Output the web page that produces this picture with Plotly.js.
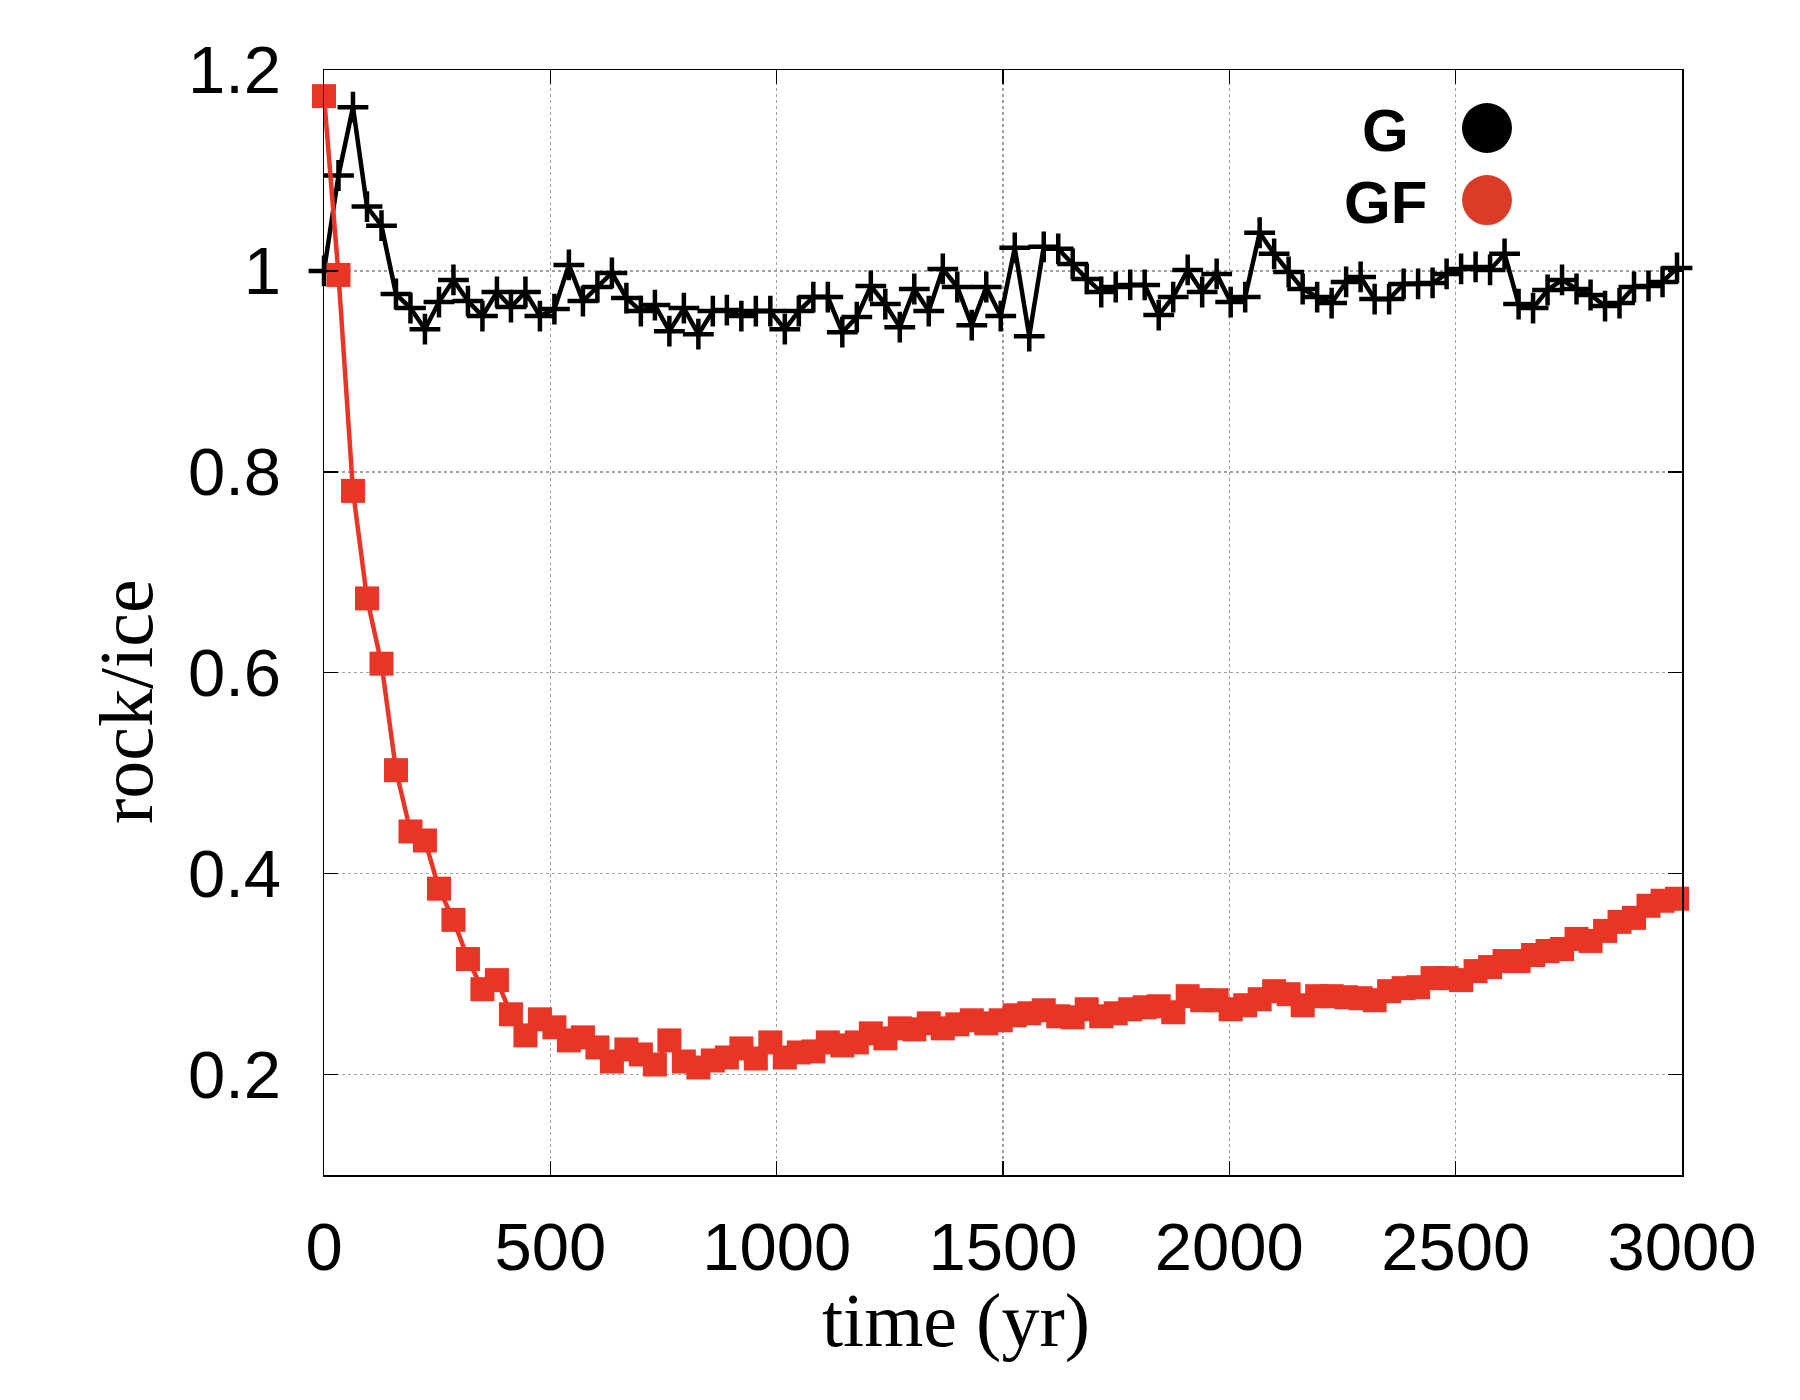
<!DOCTYPE html>
<html>
<head>
<meta charset="utf-8">
<script src="https://cdn.plot.ly/plotly-3.0.1.min.js"></script>
<style>
  html, body { margin: 0; padding: 0; background: #ffffff; }
  #chart { width: 1800px; height: 1400px; }
</style>
</head>
<body>
<div id="chart"></div>
<script>
// tiempo de salida (yr)
const timeYr = [
    0, 32, 64, 95, 127, 159, 191, 223, 254, 286,
    318, 350, 382, 413, 445, 477, 509, 541, 572, 604,
    636, 668, 700, 731, 763, 795, 827, 859, 890, 922,
    954, 986, 1018, 1049, 1081, 1113, 1145, 1177, 1208, 1240,
    1272, 1304, 1336, 1367, 1399, 1431, 1463, 1495, 1526, 1558,
    1590, 1622, 1654, 1685, 1717, 1749, 1781, 1813, 1844, 1876,
    1908, 1940, 1972, 2003, 2035, 2067, 2099, 2131, 2162, 2194,
    2226, 2258, 2290, 2321, 2353, 2385, 2417, 2449, 2480, 2512,
    2544, 2576, 2608, 2639, 2671, 2703, 2735, 2767, 2798, 2830,
    2862, 2894, 2926, 2957, 2989
];

// rock/ice - serie G
const rockIceG = [
    1.000, 1.095, 1.163, 1.064, 1.045, 0.977, 0.963, 0.942, 0.969, 0.991,
    0.970, 0.955, 0.979, 0.964, 0.979, 0.955, 0.962, 1.006, 0.970, 0.984,
    0.998, 0.973, 0.960, 0.966, 0.940, 0.963, 0.937, 0.960, 0.961, 0.955,
    0.960, 0.960, 0.942, 0.960, 0.974, 0.974, 0.939, 0.954, 0.985, 0.967,
    0.944, 0.982, 0.960, 1.002, 0.984, 0.946, 0.984, 0.955, 1.023, 0.935,
    1.024, 1.022, 1.007, 0.992, 0.979, 0.984, 0.986, 0.986, 0.956, 0.974,
    1.001, 0.979, 0.997, 0.969, 0.974, 1.038, 1.017, 0.999, 0.982, 0.974,
    0.968, 0.989, 0.994, 0.972, 0.972, 0.987, 0.987, 0.988, 0.997, 1.002,
    1.004, 1.001, 1.017, 0.967, 0.963, 0.981, 0.991, 0.982, 0.976, 0.965,
    0.968, 0.984, 0.985, 0.989, 1.003
];

// rock/ice - serie GF
const rockIceGF = [
    1.174, 0.996, 0.781, 0.674, 0.609, 0.503, 0.442, 0.433, 0.385, 0.354,
    0.315, 0.285, 0.294, 0.260, 0.239, 0.255, 0.247, 0.234, 0.237, 0.227,
    0.213, 0.225, 0.220, 0.210, 0.234, 0.213, 0.207, 0.214, 0.217, 0.226,
    0.216, 0.232, 0.217, 0.222, 0.223, 0.232, 0.229, 0.232, 0.241, 0.236,
    0.246, 0.245, 0.251, 0.246, 0.250, 0.254, 0.251, 0.254, 0.259, 0.261,
    0.264, 0.258, 0.257, 0.265, 0.258, 0.261, 0.265, 0.267, 0.268, 0.262,
    0.278, 0.274, 0.274, 0.265, 0.269, 0.275, 0.283, 0.280, 0.269, 0.278,
    0.278, 0.277, 0.276, 0.274, 0.283, 0.286, 0.287, 0.296, 0.296, 0.294,
    0.303, 0.307, 0.313, 0.313, 0.319, 0.323, 0.325, 0.335, 0.333, 0.343,
    0.352, 0.356, 0.368, 0.373, 0.375
];

const seriesNames = ['G', 'GF'];
const yTickVals = [0.2, 0.4, 0.6, 0.8, 1.0, 1.2];
const yTickText = ['0.2', '0.4', '0.6', '0.8', '1', '1.2'];
const xTickVals = [0, 500, 1000, 1500, 2000, 2500, 3000];

document.addEventListener('DOMContentLoaded', function() {
    initChart();
});

function initChart() {
    const traceG = {
        type: 'scatter',
        mode: 'lines+markers',
        name: seriesNames[0],
        x: timeYr,
        y: rockIceG,
        cliponaxis: false,
        line: { color: '#000000', width: 4.5 },
        marker: {
            symbol: 'cross-thin',
            size: 22,
            color: '#000000',
            line: { color: '#000000', width: 4.5 }
        }
    };

    const traceGF = {
        type: 'scatter',
        mode: 'lines+markers',
        name: seriesNames[1],
        x: timeYr,
        y: rockIceGF,
        cliponaxis: false,
        line: { color: '#e93526', width: 4.5 },
        marker: { symbol: 'square', size: 24, color: '#e93526' }
    };

    const tickFont = { family: 'Liberation Sans, Arial, sans-serif', size: 67, color: '#000000' };
    const titleFont = { family: 'Liberation Serif, Times New Roman, serif', size: 76, color: '#000000' };
    const legendFont = { family: 'Liberation Sans, Arial, sans-serif', size: 60, color: '#000000', weight: 'bold' };

    const layout = {
        width: 1800,
        height: 1400,
        paper_bgcolor: '#ffffff',
        plot_bgcolor: '#ffffff',
        showlegend: false,
        margin: { l: 324, r: 118, t: 70, b: 225 },
        xaxis: {
            range: [0, 3000],
            tickvals: xTickVals,
            tickfont: tickFont,
            ticks: 'inside',
            ticklen: 14,
            tickwidth: 1.5,
            tickcolor: '#000000',
            ticklabelstandoff: 13,
            showline: true,
            linecolor: '#000000',
            linewidth: 1.5,
            mirror: 'ticks',
            showgrid: true,
            gridcolor: '#a0a0a0',
            gridwidth: 1.5,
            griddash: 'dot',
            zeroline: false
        },
        yaxis: {
            range: [0.1, 1.2],
            tickvals: yTickVals,
            ticktext: yTickText,
            tickfont: tickFont,
            ticks: 'inside',
            ticklen: 14,
            tickwidth: 1.5,
            tickcolor: '#000000',
            ticklabelstandoff: 28,
            showline: true,
            linecolor: '#000000',
            linewidth: 1.5,
            mirror: 'ticks',
            showgrid: true,
            gridcolor: '#a0a0a0',
            gridwidth: 1.5,
            griddash: 'dot',
            zeroline: false
        },
        annotations: [
            // titulos de ejes
            { text: 'time (yr)', xref: 'paper', yref: 'paper', x: 0.4654, y: -0.132,
              xanchor: 'center', yanchor: 'middle', showarrow: false, font: titleFont },
            { text: 'rock/ice', xref: 'paper', yref: 'paper', x: -0.1458, y: 0.428,
              xanchor: 'center', yanchor: 'middle', textangle: -90, showarrow: false, font: titleFont },
            // leyenda
            { text: seriesNames[0], xref: 'paper', yref: 'paper', x: 0.7813, y: 0.9457,
              xanchor: 'center', yanchor: 'middle', showarrow: false, font: legendFont },
            { text: seriesNames[1], xref: 'paper', yref: 'paper', x: 0.7813, y: 0.8805,
              xanchor: 'center', yanchor: 'middle', showarrow: false, font: legendFont }
        ],
        shapes: [
            { type: 'circle', xref: 'paper', yref: 'paper', x0: 0.8380, x1: 0.8748, y0: 0.9249, y1: 0.9701,
              fillcolor: '#000000', line: { width: 0 } },
            { type: 'circle', xref: 'paper', yref: 'paper', x0: 0.8380, x1: 0.8748, y0: 0.8597, y1: 0.9050,
              fillcolor: '#db3c28', line: { width: 0 } }
        ]
    };

    Plotly.newPlot('chart', [traceG, traceGF], layout, { displayModeBar: false, staticPlot: true });
}
</script>
</body>
</html>
